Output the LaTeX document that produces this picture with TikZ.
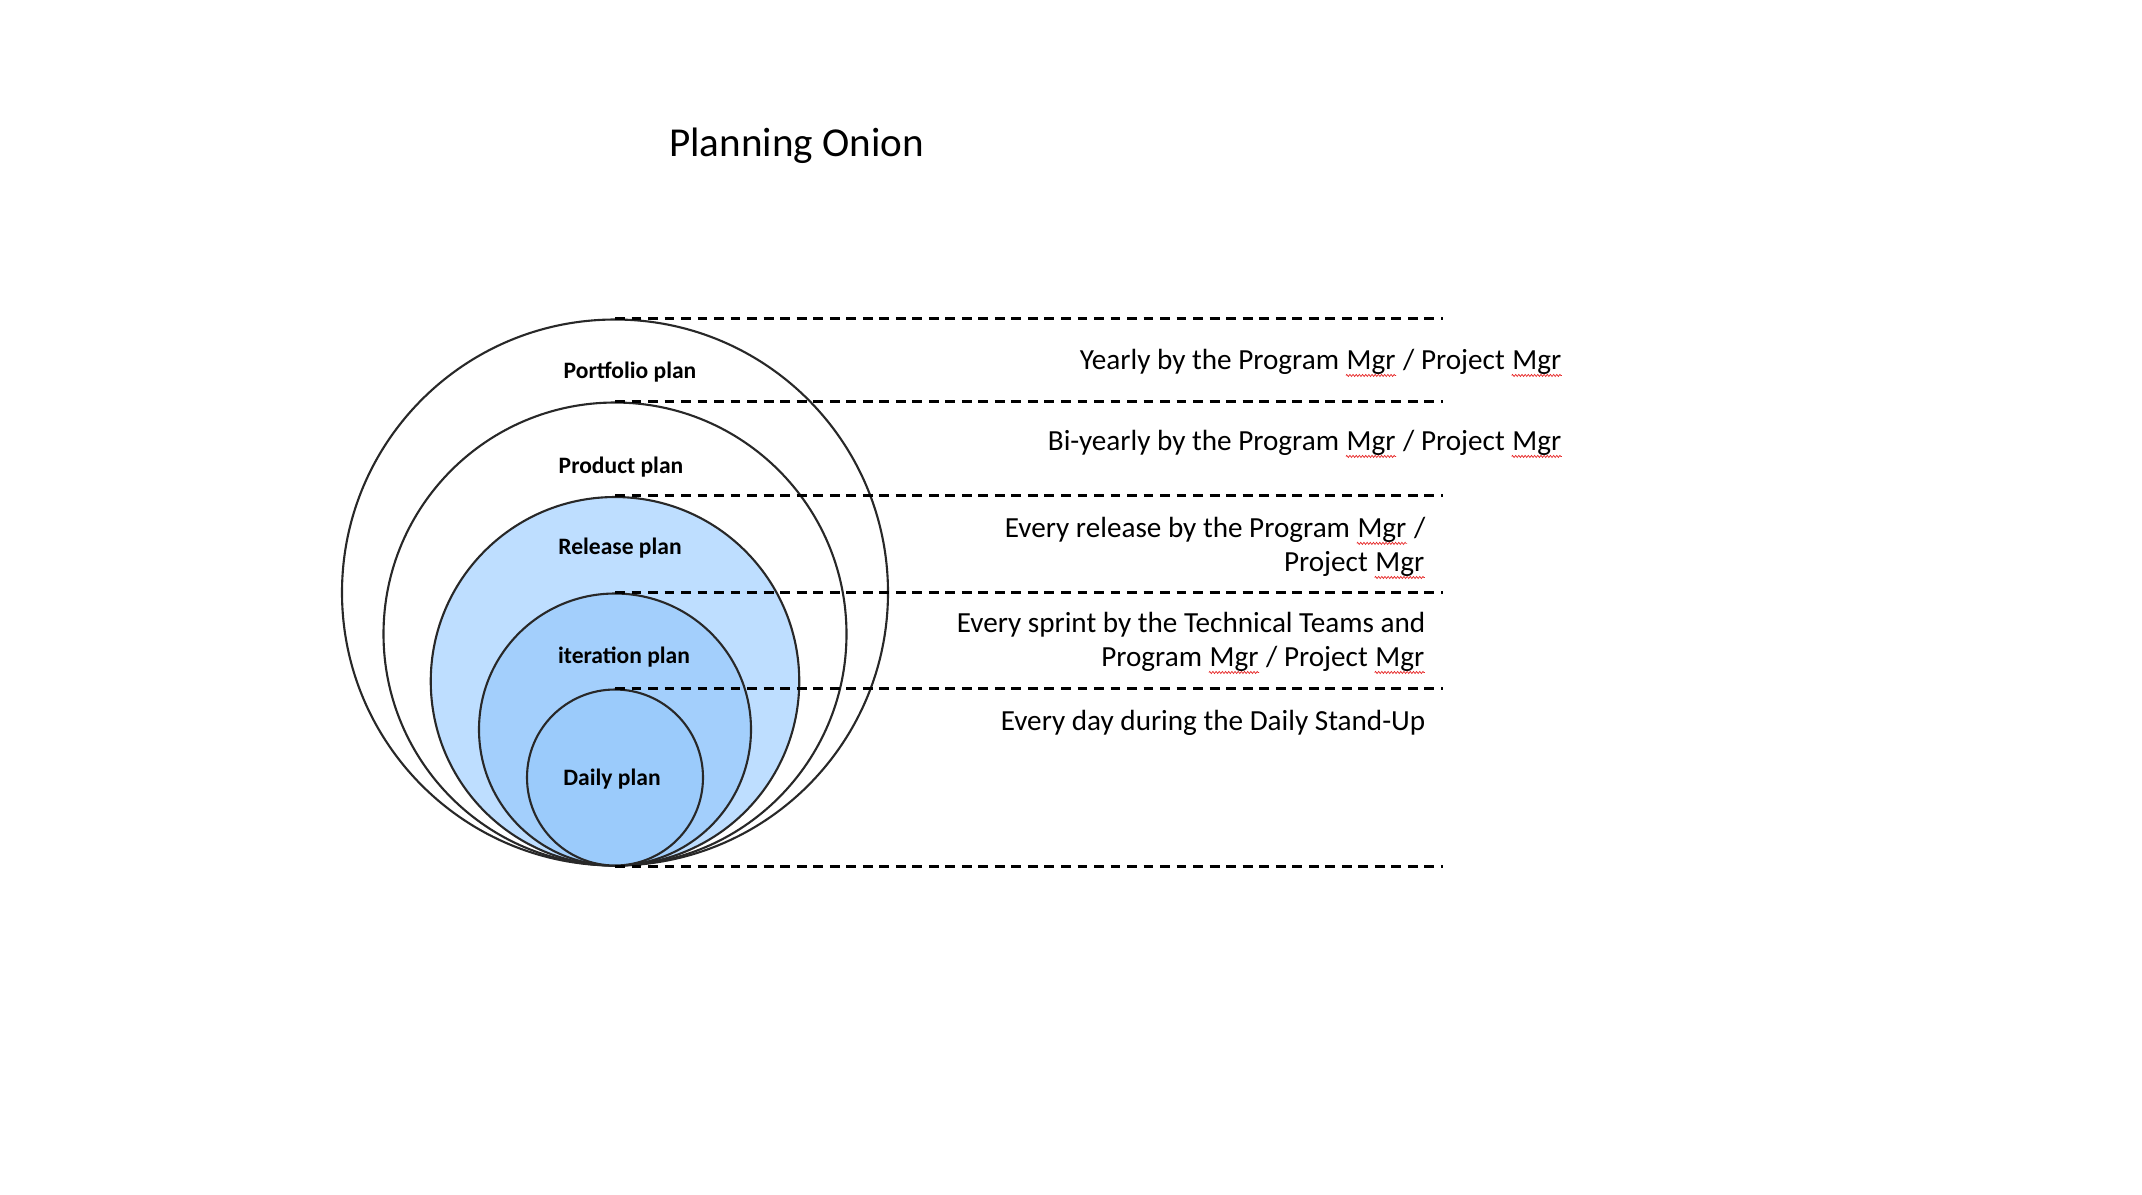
\documentclass[tikz,border=0pt]{standalone}
\usepackage{fontspec}
\setmainfont{Carlito}
\usepackage{tikz}
\usetikzlibrary{positioning,decorations.pathmorphing}
\definecolor{releaseBlue}{RGB}{190,222,255}
\definecolor{iterationBlue}{RGB}{163,207,252}
\definecolor{dailyBlue}{RGB}{155,203,251}
\definecolor{ringInk}{RGB}{40,40,40}
\definecolor{spellRed}{RGB}{230,40,40}
\newcommand{\spellmark}[1]{\tikz[baseline=(w.base)]{\node[inner sep=0pt, anchor=base] (w) {#1};
  \draw[spellRed, line width=0.2pt, decorate, decoration={zigzag, amplitude=0.3pt, segment length=0.9pt}]
    ([yshift=-1.7pt]w.base west) -- ([yshift=-1.7pt]w.base east);}}
\tikzset{
  ring/.style={circle, draw=ringInk, line width=0.6pt, inner sep=0pt},
  ringlabel/.style={font=\fontsize{6.7}{8}\selectfont\bfseries, inner sep=0pt},
  cadence/.style={font=\fontsize{8.3}{9.7}\selectfont, align=right, anchor=east, inner sep=0pt},
  titlebox/.style={font=\fontsize{11.7}{14}\selectfont, inner sep=0pt},
  guide/.style={line width=0.85pt, dash pattern=on 2.8pt off 1.9pt}
}

\begin{document}
\begin{tikzpicture}
        \useasboundingbox (0,0) rectangle (21.42,-11.94);
        \node[titlebox] (title) at (7.965,-1.46) {Planning Onion};
        \node[ring, minimum size=5.46cm] (portfolio) at (6.15,-5.925) {};
        \node[ring, minimum size=4.63cm] (product) at (6.15,-6.34) {};
        \node[ring, fill=releaseBlue, minimum size=3.685cm] (release) at (6.15,-6.8125) {};
        \node[ring, fill=iterationBlue, minimum size=2.72cm] (iteration) at (6.15,-7.295) {};
        \node[ring, fill=dailyBlue, minimum size=1.76cm] (daily) at (6.15,-7.775) {};
        \node[ringlabel] (portfolioLbl) at (6.30,-3.72) {Portfolio plan};
        \node[ringlabel] (productLbl) at (6.21,-4.67) {Product plan};
        \node[ringlabel] (releaseLbl) at (6.20,-5.48) {Release plan};
        \node[ringlabel] (iterationLbl) at (6.24,-6.57) {iteration plan};
        \node[ringlabel] (dailyLbl) at (6.12,-7.79) {Daily plan};
        \coordinate (edge) at (14.43,0);
        \draw[guide] (portfolio.north) -- (portfolio.north -| edge);
        \draw[guide] (product.north) -- (product.north -| edge);
        \draw[guide] (release.north) -- (release.north -| edge);
        \draw[guide] (iteration.north) -- (iteration.north -| edge);
        \draw[guide] (daily.north) -- (daily.north -| edge);
        \draw[guide] (portfolio.south) -- (portfolio.south -| edge);
        \node[cadence] (yearly) at (15.63,-3.63) {Yearly by the Program \spellmark{Mgr} / Project \spellmark{Mgr}};
        \node[cadence] (biyearly) at (15.63,-4.44) {Bi-yearly by the Program \spellmark{Mgr} / Project \spellmark{Mgr}};
        \node[cadence] (perRelease) at (14.26,-5.48) {Every release by the Program \spellmark{Mgr} /\\Project \spellmark{Mgr}};
        \node[cadence] (perSprint) at (14.26,-6.43) {Every sprint by the Technical Teams and\\Program \spellmark{Mgr} / Project \spellmark{Mgr}};
        \node[cadence] (perDay) at (14.26,-7.225) {Every day during the Daily Stand-Up};
      \end{tikzpicture}
\end{document}
